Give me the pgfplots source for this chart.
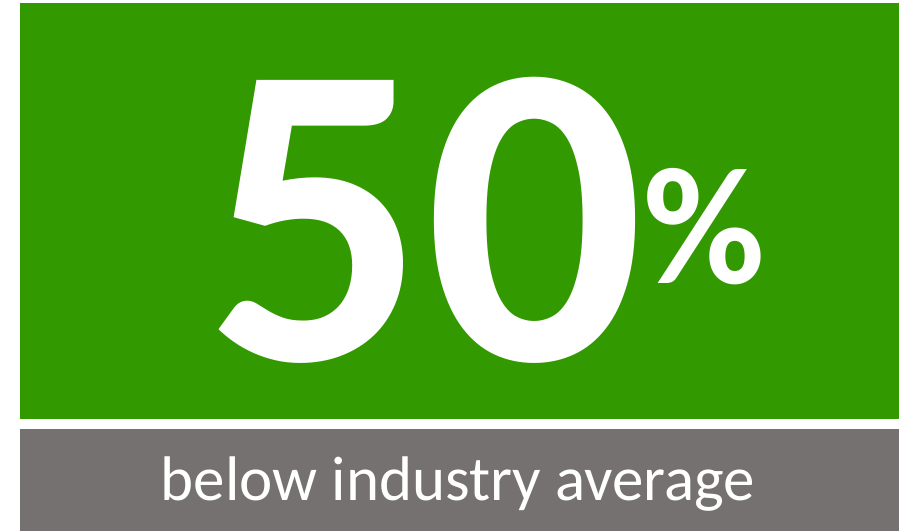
\documentclass[border=0pt]{standalone}
\usepackage{pgfplots}
\pgfplotsset{compat=1.18}
\usepackage{fontspec}
\setmainfont{Carlito}
\definecolor{kgreen}{HTML}{339900}
\definecolor{kgray}{HTML}{767171}
\begin{document}
\begin{tikzpicture}
\begin{axis}[hide axis, scale only axis, width=899bp, height=531bp,
  xmin=0, xmax=899, ymin=0, ymax=531, clip=false]
\addplot[draw=none, fill=white] coordinates {(0,0) (899,0) (899,531) (0,531)} -- cycle;
\addplot[draw=none, fill=kgreen] coordinates {(20,112) (899,112) (899,528) (20,528)} -- cycle;
\addplot[draw=none, fill=kgray] coordinates {(20,0) (899,0) (899,102) (20,102)} -- cycle;
\node[anchor=base, text=white, inner sep=0pt, font={\fontsize{432bp}{432bp}\bfseries\selectfont}] at (axis cs:425,170) {50};
\node[anchor=base west, text=white, inner sep=0pt, font={\fontsize{167bp}{167bp}\bfseries\selectfont}] at (axis cs:643,247) {\%};
\node[anchor=base, text=white, inner sep=0pt, font={\fontsize{63bp}{63bp}\selectfont}] at (axis cs:458,31) {below industry average};
\end{axis}
\end{tikzpicture}
\end{document}
